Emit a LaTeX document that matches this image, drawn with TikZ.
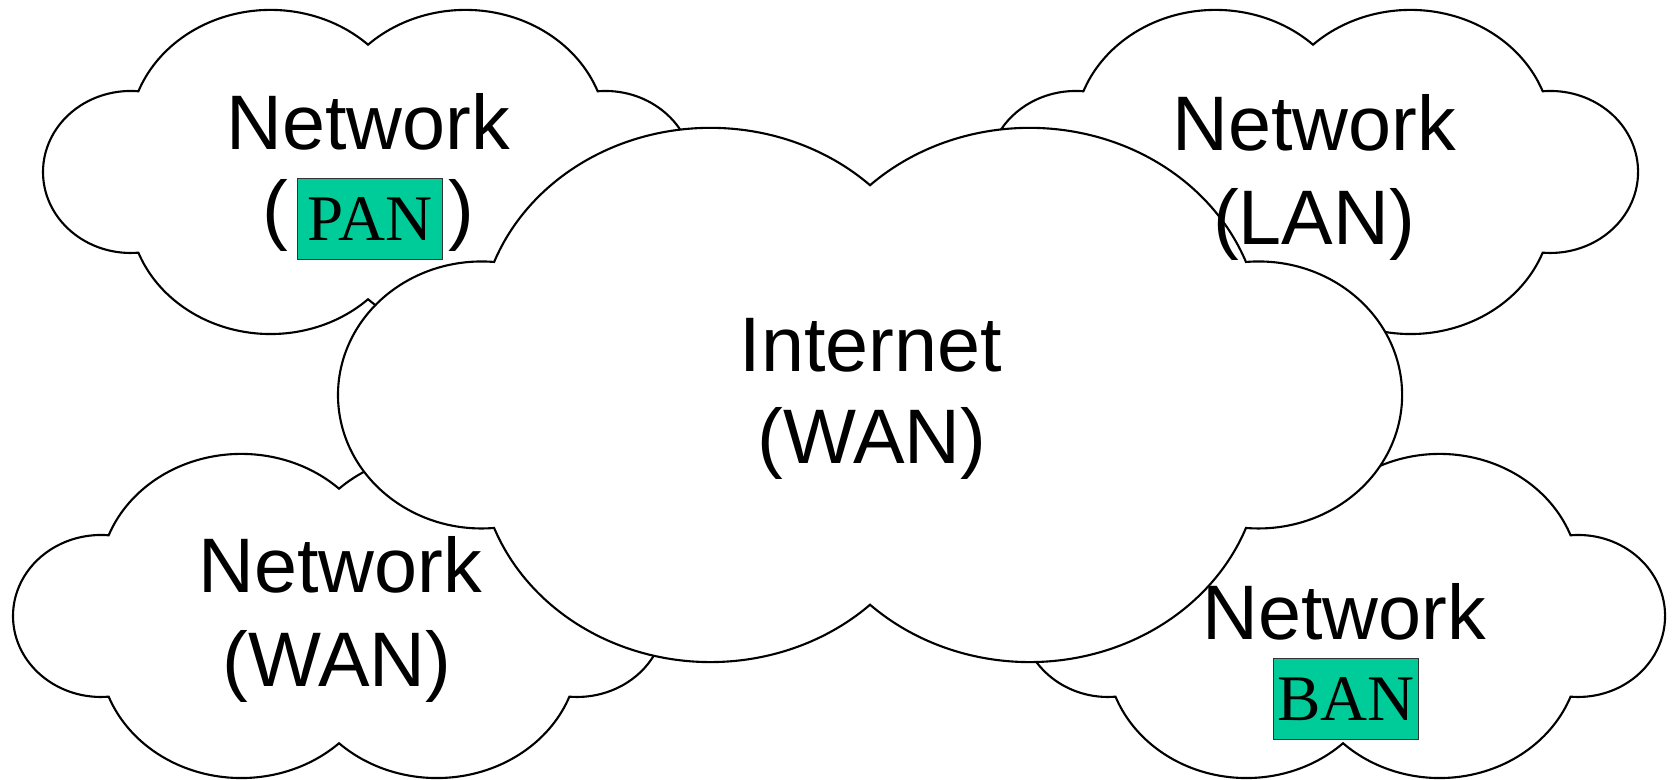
\documentclass[tikz,border=0pt]{standalone}
\usepackage{fontspec}
\setmainfont{Liberation Sans}
\newfontfamily\timesfont{Liberation Serif}
\usepackage{tikz}
\pgfdeclarelayer{edgelayer}
\pgfdeclarelayer{nodelayer}
\pgfsetlayers{edgelayer,nodelayer,main}
\definecolor{tagfill}{HTML}{00CC99}
\tikzstyle{netcloud}=[draw=black,fill=white,line width=0.6pt]
\tikzstyle{netlabel}=[anchor=base,inner sep=0pt,font=\fontsize{22}{26}\selectfont]
\tikzstyle{nettag}=[draw=black!80,fill=tagfill,line width=0.4pt,inner sep=0pt,minimum width=1.45cm,minimum height=0.81cm,font=\timesfont\fontsize{18.5}{22}\selectfont]
% cloud at (#1,#2), half width #3, half height #4
\newcommand{\cloudat}[4]{%
	\begin{scope}[shift={(#1,#2)},xscale=#3,yscale=#4]
		\draw [style=netcloud] (-0.7065,-0.498)
			arc [start angle=275, end angle=85, x radius=0.27, y radius=0.5]
			arc [start angle=159.2, end angle=46.4, x radius=0.435, y radius=0.779]
			arc [start angle=133.6, end angle=20.8, x radius=0.435, y radius=0.779]
			arc [start angle=95, end angle=-95, x radius=0.27, y radius=0.5]
			arc [start angle=-20.8, end angle=-133.6, x radius=0.435, y radius=0.779]
			arc [start angle=-46.4, end angle=-159.2, x radius=0.435, y radius=0.779]
			-- cycle;
	\end{scope}}

\begin{document}
\begin{tikzpicture}
	\useasboundingbox (0, 0) rectangle (16.77, 7.80);
	\begin{pgfonlayer}{edgelayer}
		\cloudat{3.68}{6.08}{3.25}{1.62}
		\cloudat{13.13}{6.08}{3.25}{1.62}
		\cloudat{3.39}{1.64}{3.26}{1.62}
		\cloudat{13.43}{1.64}{3.22}{1.62}
		\cloudat{8.70}{3.85}{5.32}{2.67}
	\end{pgfonlayer}
	\begin{pgfonlayer}{nodelayer}
		\node [style=netlabel] (0) at (8.71, 4.08) {Internet};
		\node [style=netlabel] (1) at (8.72, 3.16) {(WAN)};
		\node [style=netlabel] (2) at (3.68, 6.30) {Network};
		\node [style=nettag] (3) at (3.70, 5.61) {PAN};
		\node [style=netlabel] (4) at (2.75, 5.44) {(};
		\node [style=netlabel] (5) at (4.61, 5.44) {)};
		\node [style=netlabel] (6) at (13.14, 6.29) {Network};
		\node [style=netlabel] (7) at (13.14, 5.35) {(LAN)};
		\node [style=netlabel] (8) at (3.40, 1.87) {Network};
		\node [style=netlabel] (9) at (3.37, 0.93) {(WAN)};
		\node [style=netlabel] (10) at (13.44, 1.40) {Network};
		\node [style=nettag] (11) at (13.46, 0.81) {BAN};
	\end{pgfonlayer}
\end{tikzpicture}
\end{document}
